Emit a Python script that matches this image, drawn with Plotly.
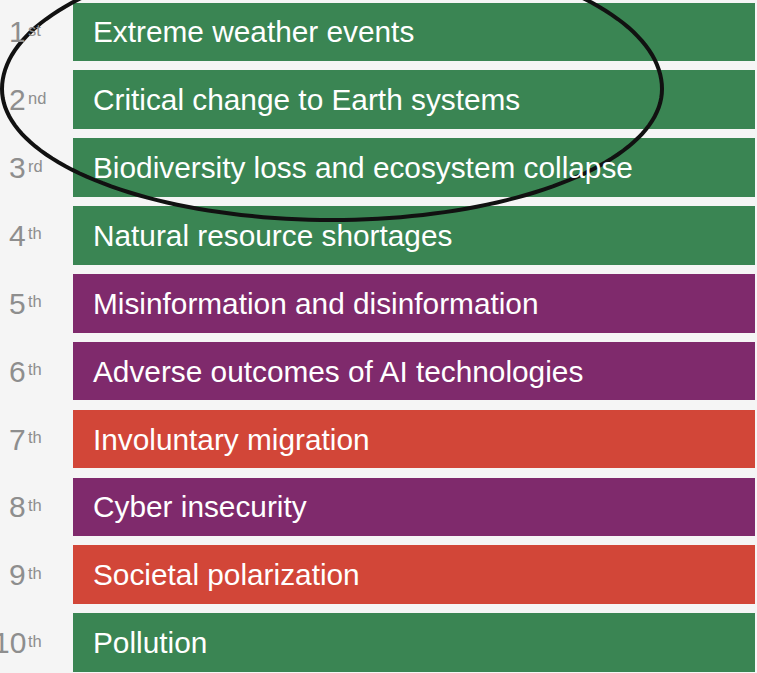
import numpy as np
import plotly.graph_objects as go

# ---- data ----
ranks = [1, 2, 3, 4, 5, 6, 7, 8, 9, 10]
rank_suffixes = ["st", "nd", "rd", "th", "th", "th", "th", "th", "th", "th"]
risks = [
    "Extreme weather events",
    "Critical change to Earth systems",
    "Biodiversity loss and ecosystem collapse",
    "Natural resource shortages",
    "Misinformation and disinformation",
    "Adverse outcomes of AI technologies",
    "Involuntary migration",
    "Cyber insecurity",
    "Societal polarization",
    "Pollution",
]
categories = ["Environmental", "Environmental", "Environmental", "Environmental",
              "Technological", "Technological", "Societal", "Technological",
              "Societal", "Environmental"]
bar_values = [1] * 10

# ---- styles ----
W, H = 757, 673
BG = "#f5f5f5"
cat_colors = {"Environmental": "#3a8553", "Technological": "#7f2a6c", "Societal": "#d24638"}
FONT = "Liberation Sans, Arial, Helvetica, sans-serif"

fig = go.Figure()
fig.add_trace(go.Bar(
    y=ranks, x=bar_values, base=0, orientation="h",
    width=0.862,
    marker=dict(color=[cat_colors[c] for c in categories], line=dict(width=0)),
    hoverinfo="skip", showlegend=False,
))

annotations = []
for r, s, name in zip(ranks, rank_suffixes, risks):
    annotations.append(dict(
        x=0, y=r, xref="x", yref="y", xanchor="left", yanchor="middle",
        xshift=18, text=name, showarrow=False,
        font=dict(family=FONT, size=29.8, color="white"),
    ))
    annotations.append(dict(
        x=27.5 / W, y=r, xref="paper", yref="y", xanchor="right", yanchor="middle",
        yshift=0, text=str(r), showarrow=False,
        font=dict(family=FONT, size=30, color="#8e8e8e"),
    ))
    annotations.append(dict(
        x=25.5 / W, y=r, xref="paper", yref="y", xanchor="left", yanchor="middle",
        yshift=2, text=s, showarrow=False,
        font=dict(family=FONT, size=16.5, color="#8e8e8e"),
    ))

# hand-drawn ellipse around top three (pixel geometry -> paper coords)
cx, cy, a = 332.0, 89.0, 330.0
b_top, b_bot = 140.0, 131.0
t = np.linspace(0, 2 * np.pi, 181)
px = cx + a * np.cos(t)
py = cy + np.where(np.sin(t) > 0, b_bot, b_top) * np.sin(t)
path = "M " + " L ".join(f"{x / W:.5f},{1 - y / H:.5f}" for x, y in zip(px, py)) + " Z"

fig.update_layout(
    width=W, height=H,
    margin=dict(l=0, r=0, t=0, b=0),
    paper_bgcolor=BG, plot_bgcolor=BG,
    xaxis=dict(range=[-73.3 / 682, 1 + 1.7 / 682], visible=False, fixedrange=True),
    yaxis=dict(range=[10.448, 0.5307], visible=False, fixedrange=True),
    annotations=annotations,
    shapes=[dict(type="path", xref="paper", yref="paper", path=path,
                 line=dict(color="#111111", width=4), fillcolor="rgba(0,0,0,0)",
                 layer="above")],
    bargap=0,
)

fig.write_html(
    "out.html",
    config={"displayModeBar": False, "staticPlot": True},
    post_script="document.body.style.margin='0';document.body.style.background='%s';" % BG,
)
